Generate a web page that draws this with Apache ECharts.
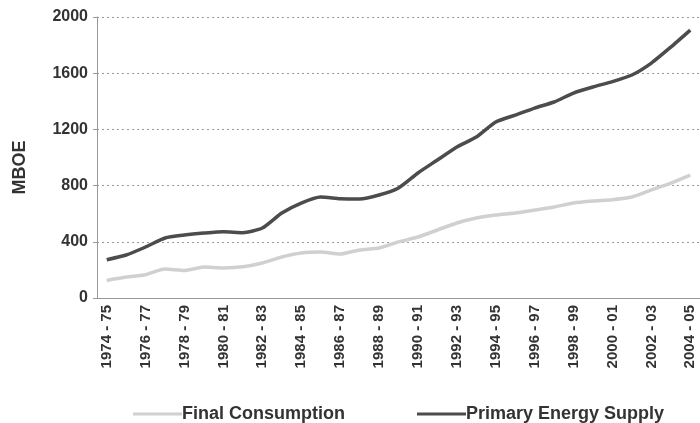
<!DOCTYPE html>
<html><head><meta charset="utf-8">
<script src="https://cdn.jsdelivr.net/npm/echarts@6/dist/echarts.min.js"></script>
<style>html,body{margin:0;padding:0;background:#fff}#c{width:700px;height:423px}</style>
</head><body><div id="c"></div>
<script>
const years = ["1974 - 75","1975 - 76","1976 - 77","1977 - 78","1978 - 79","1979 - 80","1980 - 81","1981 - 82","1982 - 83","1983 - 84","1984 - 85","1985 - 86","1986 - 87","1987 - 88","1988 - 89","1989 - 90","1990 - 91","1991 - 92","1992 - 93","1993 - 94","1994 - 95","1995 - 96","1996 - 97","1997 - 98","1998 - 99","1999 - 00","2000 - 01","2001 - 02","2002 - 03","2003 - 04","2004 - 05"];
const finalConsumption = [125,149,166,206,196,221,214,222,249,292,320,327,313,342,356,399,434,484,534,569,591,605,626,648,676,690,700,719,769,818,875];
const primarySupply = [272,306,363,427,448,462,472,465,498,605,676,719,707,705,733,783,890,982,1075,1146,1253,1302,1352,1395,1459,1502,1540,1587,1672,1786,1907];
const yTicks = {min:0, max:2000, interval:400};

const chart = echarts.init(document.getElementById('c'));
const font = '"Liberation Sans", Arial, sans-serif';
chart.setOption({
  backgroundColor:'#fff',
  animation:false,
  grid:{left:97, top:17, width:608, height:281},
  legend:{
    top:400, left:128, itemGap:72, itemWidth:49, itemHeight:3,
    textStyle:{fontFamily:font, fontWeight:'bold', fontSize:18, color:'#333', padding:[0,0,0,-5]},
    data:[{name:'Final Consumption', icon:'rect'},{name:'Primary Energy Supply', icon:'rect'}]
  },
  xAxis:{
    type:'category', data:years, boundaryGap:true,
    axisLine:{lineStyle:{color:'#999', width:1}},
    axisTick:{interval:0, length:4, lineStyle:{color:'#999'}},
    axisLabel:{interval:1, rotate:90, fontFamily:font, fontWeight:'bold', fontSize:15, color:'#333', margin:7}
  },
  yAxis:{
    type:'value', min:yTicks.min, max:yTicks.max, interval:yTicks.interval,
    name:'MBOE', nameLocation:'middle', nameGap:68, nameRotate:90,
    nameTextStyle:{fontFamily:font, fontWeight:'bold', fontSize:18, color:'#333', padding:[0,20,0,0]},
    axisLine:{show:true, lineStyle:{color:'#999'}},
    axisTick:{show:true, length:4, lineStyle:{color:'#999'}},
    axisLabel:{fontFamily:font, fontWeight:'bold', fontSize:16, color:'#333', margin:9, formatter:v=>String(v)},
    splitLine:{lineStyle:{color:'#999', type:[2,3], width:1}}
  },
  series:[
    {name:'Final Consumption', type:'line', data:finalConsumption, symbol:'none', smooth:0.2,
     lineStyle:{color:'#d0d0d0', width:3.5}, itemStyle:{color:'#d0d0d0'}},
    {name:'Primary Energy Supply', type:'line', data:primarySupply, symbol:'none', smooth:0.2,
     lineStyle:{color:'#4c4c4c', width:3.5}, itemStyle:{color:'#4c4c4c'}}
  ]
});
</script></body></html>
